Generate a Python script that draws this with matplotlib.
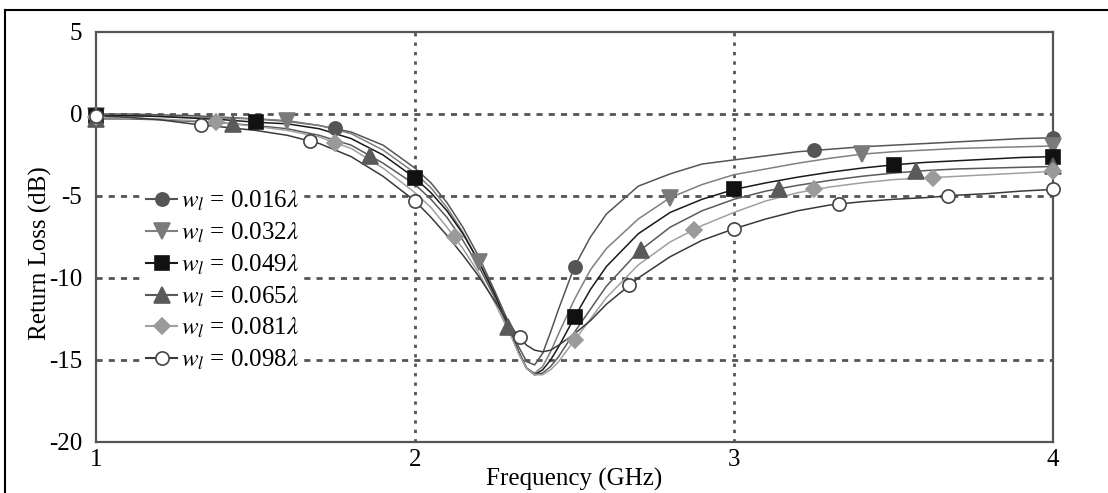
import matplotlib
matplotlib.use("Agg")
import matplotlib.pyplot as plt
from matplotlib.lines import Line2D

plt.rcParams['font.family'] = ['Liberation Serif', 'DejaVu Serif']
plt.rcParams['mathtext.fontset'] = 'stix'

# frequency grid (GHz) for the traced curves
freq = [1.0, 1.1, 1.2, 1.3, 1.4, 1.5, 1.6, 1.7, 1.8, 1.9, 2.0, 2.05, 2.1, 2.15,
        2.2, 2.25, 2.3, 2.325, 2.35, 2.375, 2.4, 2.425, 2.45, 2.5, 2.55, 2.6,
        2.7, 2.8, 2.9, 3.0, 3.1, 3.2, 3.3, 3.4, 3.5, 3.6, 3.7, 3.8, 3.9, 4.0]

rl_016 = [0.0, 0.0, -0.05, -0.1, -0.2, -0.3, -0.45, -0.7, -1.1, -1.9, -3.3, -4.2,
          -5.4, -6.9, -8.7, -10.8, -13.0, -14.2, -15.1, -15.3, -14.6, -13.3, -11.9,
          -9.3, -7.5, -6.1, -4.4, -3.65, -3.05, -2.8, -2.55, -2.3, -2.15, -2.0,
          -1.9, -1.8, -1.7, -1.6, -1.5, -1.45]
rl_032 = [-0.1, -0.1, -0.15, -0.2, -0.25, -0.3, -0.4, -0.7, -1.2, -2.2, -3.6, -4.5,
          -5.7, -7.2, -9.0, -11.0, -13.3, -14.5, -15.5, -15.8, -15.4, -14.5, -13.4,
          -11.3, -9.5, -8.2, -6.4, -5.1, -4.3, -3.7, -3.35, -3.0, -2.7, -2.45,
          -2.3, -2.2, -2.1, -2.05, -2.0, -1.95]
rl_049 = [-0.1, -0.1, -0.15, -0.25, -0.35, -0.5, -0.6, -0.9, -1.5, -2.5, -3.9, -4.8,
          -5.9, -7.3, -9.0, -11.0, -13.3, -14.5, -15.5, -15.9, -15.6, -15.0, -14.2,
          -12.4, -10.7, -9.3, -7.3, -6.0, -5.2, -4.6, -4.2, -3.85, -3.55, -3.3,
          -3.1, -2.95, -2.85, -2.75, -2.65, -2.6]
rl_065 = [-0.3, -0.3, -0.35, -0.45, -0.55, -0.7, -0.9, -1.3, -1.9, -3.0, -4.3, -5.2,
          -6.3, -7.7, -9.3, -11.2, -13.4, -14.6, -15.5, -15.9, -15.8, -15.4, -14.8,
          -13.3, -11.9, -10.5, -8.4, -6.9, -5.9, -5.2, -4.7, -4.35, -4.05, -3.8,
          -3.6, -3.45, -3.35, -3.3, -3.25, -3.2]
rl_081 = [-0.2, -0.25, -0.3, -0.4, -0.55, -0.75, -1.0, -1.4, -2.1, -3.3, -4.8, -5.7,
          -6.9, -8.2, -9.7, -11.5, -13.5, -14.6, -15.5, -15.9, -15.9, -15.6, -15.1,
          -13.8, -12.5, -11.2, -9.2, -7.8, -6.8, -6.0, -5.3, -4.8, -4.45, -4.2,
          -4.0, -3.9, -3.8, -3.7, -3.6, -3.5]
rl_098 = [-0.1, -0.2, -0.35, -0.6, -0.8, -1.0, -1.3, -1.8, -2.6, -3.8, -5.3, -6.3,
          -7.4, -8.6, -9.9, -11.4, -12.9, -13.6, -14.1, -14.4, -14.5, -14.4, -14.1,
          -13.4, -12.6, -11.6, -10.0, -8.7, -7.7, -7.0, -6.4, -5.9, -5.55, -5.35,
          -5.2, -5.1, -4.95, -4.85, -4.7, -4.6]

# marker positions on each curve
mk_f_016 = [1.0, 1.75, 2.5, 3.25, 4.0]
mk_v_016 = [0.0, -0.85, -9.3, -2.2, -1.45]
mk_f_032 = [1.0, 1.6, 2.2, 2.8, 3.4, 4.0]
mk_v_032 = [-0.1, -0.4, -9.0, -5.1, -2.45, -1.95]
mk_f_049 = [1.0, 1.5, 2.0, 2.5, 3.0, 3.5, 4.0]
mk_v_049 = [-0.1, -0.5, -3.9, -12.4, -4.6, -3.1, -2.6]
mk_f_065 = [1.0, 1.43, 1.86, 2.29, 2.71, 3.14, 3.57, 4.0]
mk_v_065 = [-0.3, -0.6, -2.55, -13.0, -8.3, -4.6, -3.5, -3.2]
mk_f_081 = [1.0, 1.375, 1.75, 2.125, 2.5, 2.875, 3.25, 3.625, 4.0]
mk_v_081 = [-0.2, -0.5, -1.75, -7.5, -13.8, -7.05, -4.6, -3.88, -3.5]
mk_f_098 = [1.0, 1.33, 1.67, 2.0, 2.33, 2.67, 3.0, 3.33, 3.67, 4.0]
mk_v_098 = [-0.1, -0.65, -1.65, -5.3, -13.6, -10.45, -7.0, -5.5, -5.0, -4.6]

labels = [r'$w_l$ = 0.016$\lambda$', r'$w_l$ = 0.032$\lambda$', r'$w_l$ = 0.049$\lambda$',
          r'$w_l$ = 0.065$\lambda$', r'$w_l$ = 0.081$\lambda$', r'$w_l$ = 0.098$\lambda$']

curves = [rl_016, rl_032, rl_049, rl_065, rl_081, rl_098]
mk_f = [mk_f_016, mk_f_032, mk_f_049, mk_f_065, mk_f_081, mk_f_098]
mk_v = [mk_v_016, mk_v_032, mk_v_049, mk_v_065, mk_v_081, mk_v_098]

line_colors = ['#555555', '#808080', '#1a1a1a', '#5a5a5a', '#a0a0a0', '#3a3a3a']
marker_face = ['#555555', '#7a7a7a', '#111111', '#5a5a5a', '#9a9a9a', 'white']
marker_edge = ['#555555', '#7a7a7a', '#111111', '#5a5a5a', '#9a9a9a', '#444444']
markers = ['o', 'v', 's', '^', 'D', 'o']
msizes = [9.5, 11, 9.5, 11, 8, 9.5]

fig = plt.figure(figsize=(11.08, 4.93), dpi=100)
ax = fig.add_axes([96 / 1108, 51 / 493, 957 / 1108, 410 / 493])

handles = []
for i in range(6):
    ax.plot(freq, curves[i], color=line_colors[i], lw=1.1, zorder=3)
    ax.plot(mk_f[i], mk_v[i], ls='none', marker=markers[i], ms=msizes[i],
            mfc=marker_face[i], mec=marker_edge[i], mew=1.2, zorder=4, clip_on=False)
    handles.append(Line2D([], [], color=line_colors[i], lw=1.5, marker=markers[i],
                          ms=msizes[i], mfc=marker_face[i], mec=marker_edge[i], mew=1.2))

ax.set_xlim(1, 4)
ax.set_ylim(-20, 5)
ax.set_xticks([1, 2, 3, 4])
ax.set_yticks([5, 0, -5, -10, -15, -20])
ax.set_yticklabels(['5', '0', '-5', '-10', '-15', '-20'])
ax.tick_params(length=0, labelsize=18)
ax.tick_params(axis='y', pad=10)
ax.tick_params(axis='x', pad=5)

for x in [2, 3]:
    ax.axvline(x, color='#555555', lw=2, ls=(0, (1.2, 2.2)), zorder=1)
for y in [0, -5, -10, -15]:
    ax.axhline(y, color='#555555', lw=2, ls=(0, (2.2, 2.2)), zorder=1)

for s in ax.spines.values():
    s.set_color('#555555')
    s.set_linewidth(1.6)

ax.set_xlabel('Frequency (GHz)', fontsize=18, labelpad=-2)
ax.set_ylabel('Return Loss (dB)', fontsize=18)
ax.yaxis.set_label_coords(-0.046, 0.46)

leg = ax.legend(handles, labels, loc='upper left', bbox_to_anchor=(0.034, 0.66),
                fontsize=18, handlelength=1.25, handletextpad=0.15, labelspacing=0.3,
                frameon=True, fancybox=False, borderpad=0.2)
leg.get_frame().set_edgecolor('none')
leg.get_frame().set_facecolor('white')
leg.get_frame().set_alpha(1)
leg.set_zorder(2)

# outer frame of the figure
fig.add_artist(Line2D([5 / 1108, 1], [483 / 493, 483 / 493], color='black', lw=1.5))
fig.add_artist(Line2D([5 / 1108, 5 / 1108], [0, 483 / 493], color='black', lw=1.5))

fig.savefig('out.png', dpi=100, facecolor='white')
